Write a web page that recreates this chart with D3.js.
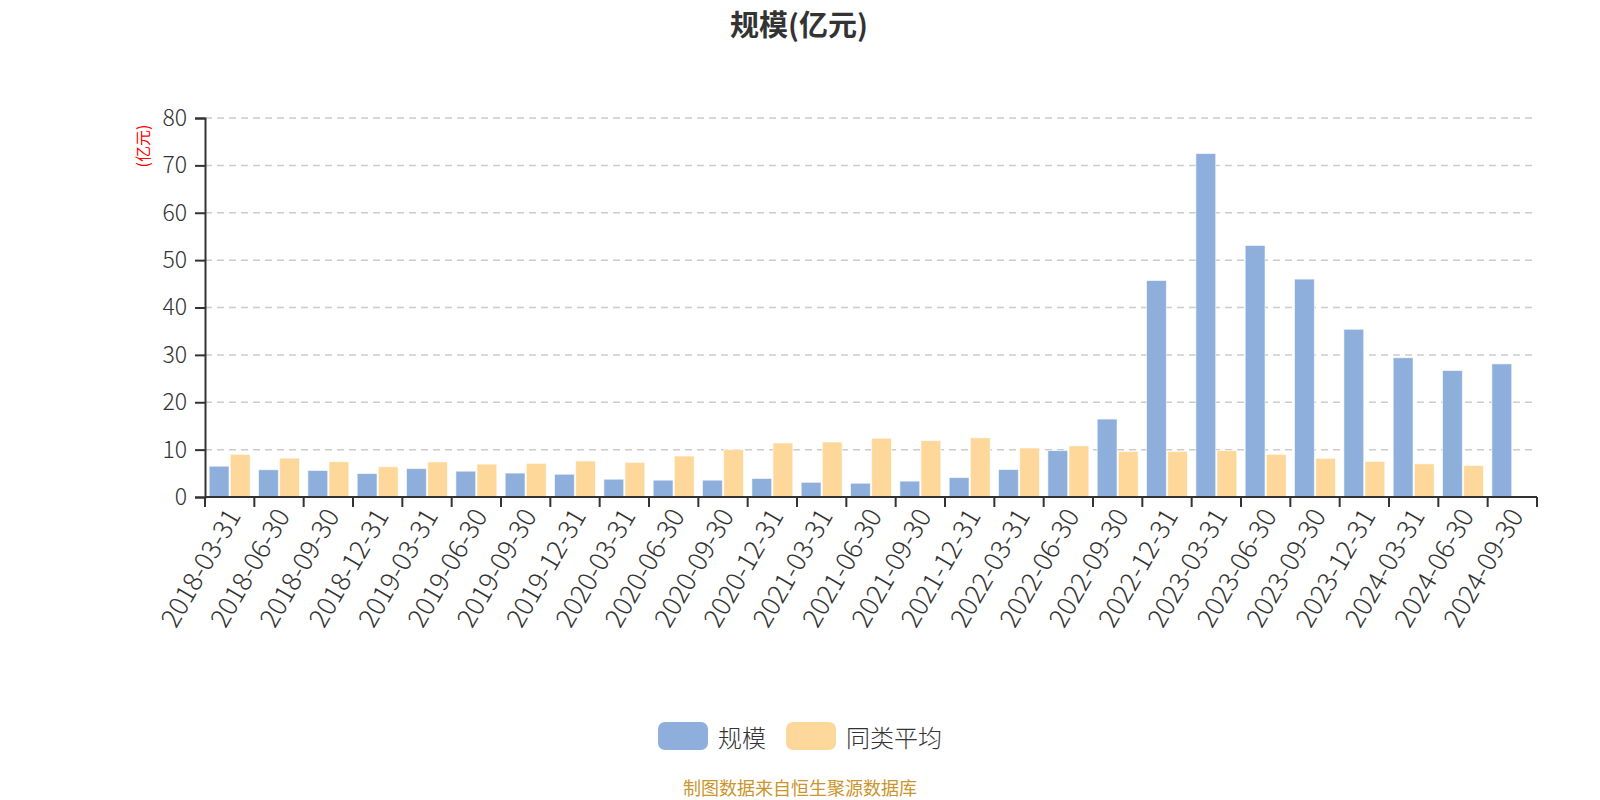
<!DOCTYPE html>
<html>
<head>
<meta charset="utf-8">
<script src="https://cdn.jsdelivr.net/npm/d3@7"></script>
<style>
  body { margin: 0; background: #fff; }
  svg { display: block; font-family: "Noto Sans CJK SC", "Noto Sans", sans-serif; }
</style>
</head>
<body>
<svg id="chart" width="1600" height="800"></svg>
<script>
'use strict'

// quarters shown on the x axis
var dates = [
  '2018-03-31', '2018-06-30', '2018-09-30', '2018-12-31',
  '2019-03-31', '2019-06-30', '2019-09-30', '2019-12-31',
  '2020-03-31', '2020-06-30', '2020-09-30', '2020-12-31',
  '2021-03-31', '2021-06-30', '2021-09-30', '2021-12-31',
  '2022-03-31', '2022-06-30', '2022-09-30', '2022-12-31',
  '2023-03-31', '2023-06-30', '2023-09-30', '2023-12-31',
  '2024-03-31', '2024-06-30', '2024-09-30'
]

// 规模 (亿元)
var scaleValues = [
  6.5, 5.75, 5.6, 4.95, 6.0, 5.45, 5.05, 4.8,
  3.75, 3.55, 3.55, 3.9, 3.1, 2.9, 3.35, 4.1,
  5.8, 9.8, 16.45, 45.7, 72.5, 53.1, 46.0, 35.4,
  29.4, 26.7, 28.1
]

// 同类平均 (亿元), last quarter has no value yet
var peerValues = [
  9.0, 8.2, 7.45, 6.4, 7.4, 6.95, 7.1, 7.6,
  7.3, 8.65, 10.0, 11.4, 11.6, 12.4, 11.9, 12.5,
  10.35, 10.8, 9.6, 9.6, 9.8, 9.0, 8.15, 7.5,
  7.0, 6.65, null
]

var seriesNames = ['规模', '同类平均']
var seriesColors = ['#8eaedb', '#fed89a']
var yTicks = [0, 10, 20, 30, 40, 50, 60, 70, 80]

var svg = d3.select('#chart')
var plotLeft = 205
var plotRight = 1537
var plotTop = 118
var plotBottom = 497

var x0 = d3.scaleBand()
  .domain(dates)
  .range([plotLeft, plotRight])

var x1 = d3.scaleBand()
  .domain(seriesNames)
  .range([x0.bandwidth() * 0.085, x0.bandwidth() * 0.915])
  .paddingInner(0.06)

var y = d3.scaleLinear()
  .domain([0, 80])
  .range([plotBottom, plotTop])

var color = d3.scaleOrdinal()
  .domain(seriesNames)
  .range(seriesColors)

// title
svg.append('text')
  .attr('x', 799)
  .attr('y', 23)
  .attr('text-anchor', 'middle')
  .attr('dominant-baseline', 'central')
  .attr('font-size', 29)
  .attr('font-weight', 'bold')
  .attr('fill', '#333')
  .text('规模(亿元)')

// dashed grid
svg.append('g')
  .attr('class', 'grid')
  .selectAll('line')
  .data(yTicks.slice(1))
  .enter().append('line')
    .attr('x1', plotLeft)
    .attr('x2', plotRight)
    .attr('y1', (d) => y(d))
    .attr('y2', (d) => y(d))
    .attr('stroke', '#cccccc')
    .attr('stroke-width', 1.5)
    .attr('stroke-dasharray', '7,5')

// bars
var rows = dates.map((d, i) => ({ date: d, values: [scaleValues[i], peerValues[i]] }))

svg.append('g')
  .attr('class', 'bars')
  .selectAll('g')
  .data(rows)
  .enter().append('g')
    .attr('transform', (d) => 'translate(' + x0(d.date) + ',0)')
  .selectAll('rect')
  .data((d) => d.values.map((v, k) => ({ key: seriesNames[k], value: v })).filter((e) => e.value != null))
  .enter().append('rect')
    .attr('x', (d) => x1(d.key))
    .attr('width', x1.bandwidth())
    .attr('y', (d) => y(d.value))
    .attr('height', (d) => y(0) - y(d.value))
    .attr('fill', (d) => color(d.key))
    .attr('stroke', 'rgba(255,255,255,0.6)')
    .attr('stroke-width', 1)

// y axis
var yAxis = svg.append('g')
  .attr('transform', 'translate(' + plotLeft + ',0)')
  .call(d3.axisLeft(y).tickValues(yTicks).tickSize(10).tickPadding(8))

yAxis.select('.domain').attr('stroke', '#333').attr('stroke-width', 2)
yAxis.selectAll('.tick line').attr('stroke', '#333').attr('stroke-width', 2)
yAxis.selectAll('.tick text')
  .attr('font-size', 23)
  .attr('font-weight', 300)
  .attr('fill', '#333')
  .attr('font-family', '"Noto Sans CJK SC", sans-serif')

// unit label
svg.append('text')
  .attr('transform', 'translate(142,146) rotate(-90)')
  .attr('text-anchor', 'middle')
  .attr('dominant-baseline', 'central')
  .attr('font-size', 16)
  .attr('fill', '#ff0000')
  .text('(亿元)')

// x axis: ticks on band boundaries, labels at band centres
var xAxis = svg.append('g').attr('class', 'x-axis')

xAxis.append('line')
  .attr('x1', plotLeft)
  .attr('x2', plotRight)
  .attr('y1', plotBottom)
  .attr('y2', plotBottom)
  .attr('stroke', '#333')
  .attr('stroke-width', 2)

xAxis.selectAll('line.tick')
  .data(dates.map((d) => x0(d)).concat([plotRight]))
  .enter().append('line')
    .attr('class', 'tick')
    .attr('x1', (d) => d)
    .attr('x2', (d) => d)
    .attr('y1', plotBottom)
    .attr('y2', plotBottom + 10)
    .attr('stroke', '#333')
    .attr('stroke-width', 2)

xAxis.selectAll('text')
  .data(dates)
  .enter().append('text')
    .attr('transform', (d) => 'translate(' + (x0(d) + x0.bandwidth() / 2 + 2) + ',' + (plotBottom + 13) + ') rotate(-60)')
    .attr('text-anchor', 'end')
    .attr('dominant-baseline', 'central')
    .attr('font-size', 26.5)
    .attr('font-weight', 300)
    .attr('fill', '#333')
    .text((d) => d)

// legend
var legend = svg.append('g')
  .attr('class', 'legend')
  .selectAll('g')
  .data(seriesNames)
  .enter().append('g')
    .attr('transform', (d, i) => 'translate(' + [658, 786][i] + ',722)')

legend.append('rect')
  .attr('width', 50)
  .attr('height', 28)
  .attr('rx', 7)
  .attr('fill', (d) => color(d))

legend.append('text')
  .attr('x', 60)
  .attr('y', 14)
  .attr('dominant-baseline', 'central')
  .attr('font-size', 24)
  .attr('font-weight', 300)
  .attr('fill', '#333')
  .text((d) => d)

// source note
svg.append('text')
  .attr('x', 800)
  .attr('y', 787)
  .attr('text-anchor', 'middle')
  .attr('dominant-baseline', 'central')
  .attr('font-size', 18)
  .attr('fill', '#c9952c')
  .text('制图数据来自恒生聚源数据库')
</script>
</body>
</html>
